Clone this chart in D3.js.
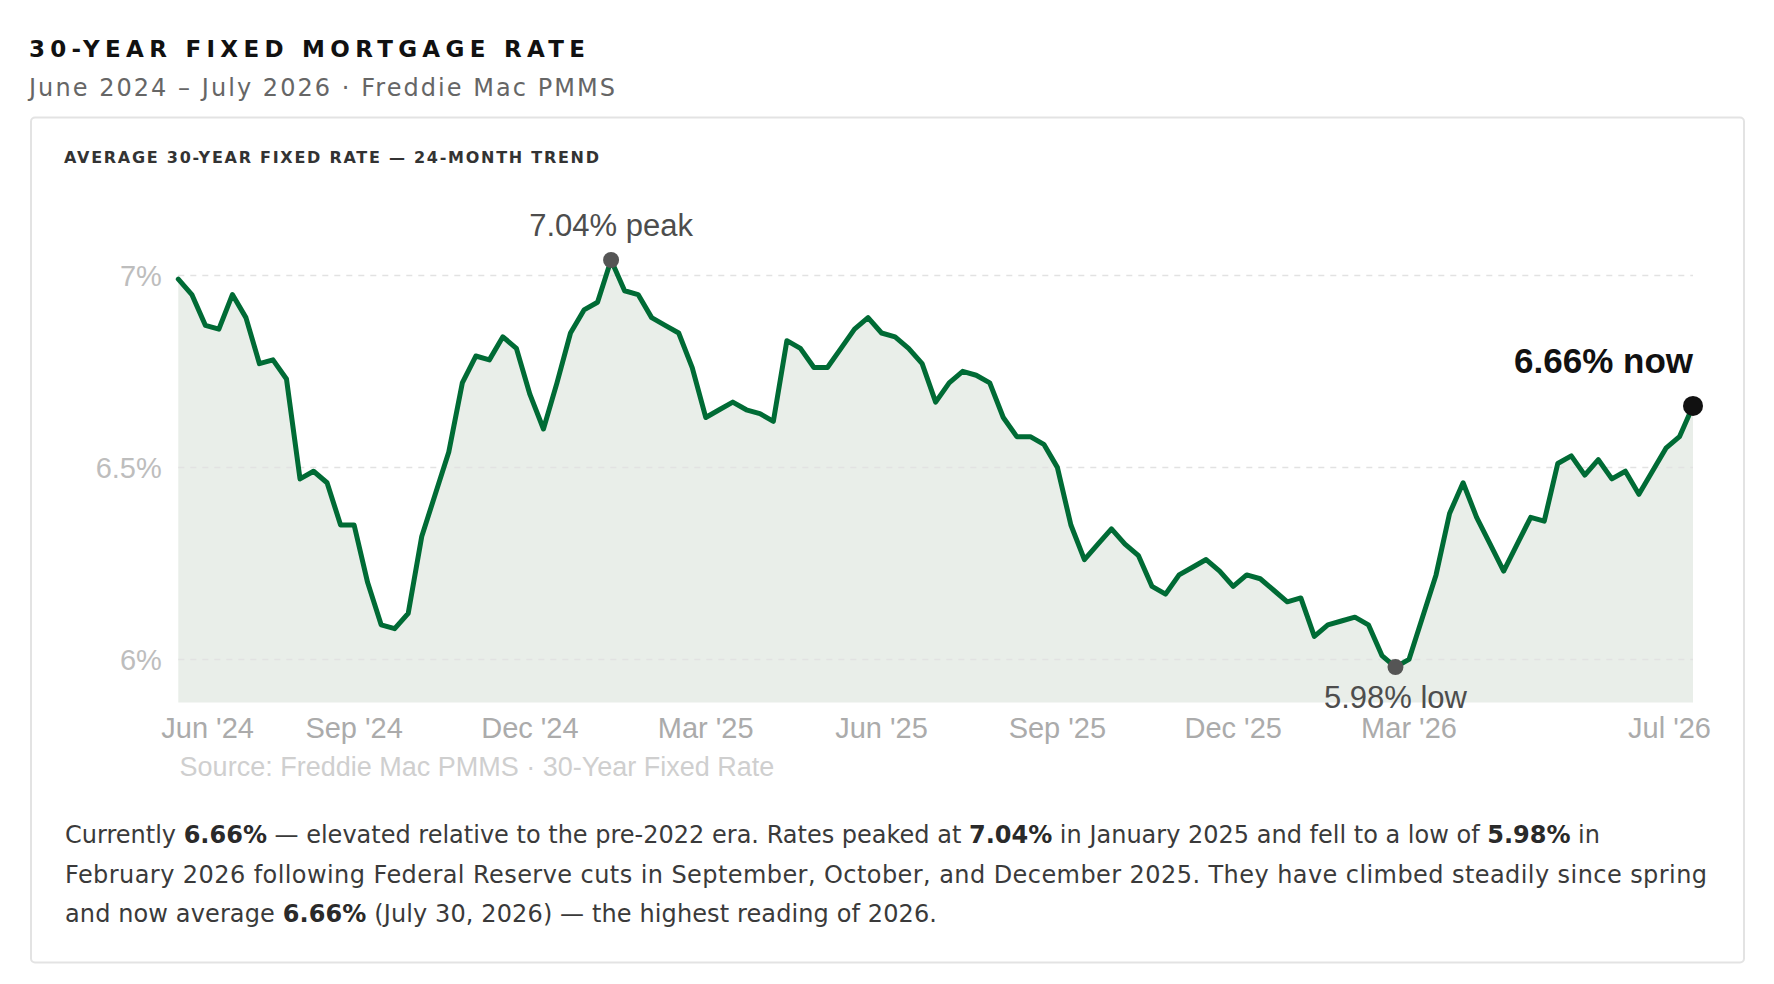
<!DOCTYPE html>
<html>
<head>
<meta charset="utf-8">
<script src="https://cdn.jsdelivr.net/npm/d3@7/dist/d3.min.js"></script>
<style>
  body { margin: 0; background: #fff; }
  svg { display: block; }
</style>
</head>
<body>
<svg id="chart" width="1774" height="984"></svg>
<script>
// Weekly Freddie Mac PMMS 30-year fixed readings, first week 2024-06-06
const firstWeek = '2024-06-06';
const rates = [
  6.99, 6.95, 6.87, 6.86, 6.95, 6.89, 6.77, 6.78, 6.73, 6.47,
  6.49, 6.46, 6.35, 6.35, 6.20, 6.09, 6.08, 6.12, 6.32, 6.43,
  6.54, 6.72, 6.79, 6.78, 6.84, 6.81, 6.69, 6.60, 6.72, 6.85,
  6.91, 6.93, 7.04, 6.96, 6.95, 6.89, 6.87, 6.85, 6.76, 6.63,
  6.65, 6.67, 6.65, 6.64, 6.62, 6.83, 6.81, 6.76, 6.76, 6.81,
  6.86, 6.89, 6.85, 6.84, 6.81, 6.77, 6.67, 6.72, 6.75, 6.74,
  6.72, 6.63, 6.58, 6.58, 6.56, 6.50, 6.35, 6.26, 6.30, 6.34,
  6.30, 6.27, 6.19, 6.17, 6.22, 6.24, 6.26, 6.23, 6.19, 6.22,
  6.21, 6.18, 6.15, 6.16, 6.06, 6.09, 6.10, 6.11, 6.09, 6.01,
  5.98, 6.00, 6.11, 6.22, 6.38, 6.46, 6.37, 6.30, 6.23, 6.30,
  6.37, 6.36, 6.51, 6.53, 6.48, 6.52, 6.47, 6.49, 6.43, 6.49,
  6.55, 6.58, 6.66
];

const tickDates = ['2024-06-06', '2024-09-05', '2024-12-05', '2025-03-06', '2025-06-05',
                   '2025-09-04', '2025-12-04', '2026-03-05', '2026-07-30'];
const tickLabels = ["Jun '24", "Sep '24", "Dec '24", "Mar '25", "Jun '25",
                    "Sep '25", "Dec '25", "Mar '26", "Jul '26"];
const yTicks = [6, 6.5, 7];
const yTickLabels = ['6%', '6.5%', '7%'];

const paragraph = [
  [['Currently ', false], ['6.66%', true], [' — elevated relative to the pre-2022 era. Rates peaked at ', false],
   ['7.04%', true], [' in January 2025 and fell to a low of ', false], ['5.98%', true], [' in', false]],
  [['February 2026 following Federal Reserve cuts in September, October, and December 2025. They have climbed steadily since spring', false]],
  [['and now average ', false], ['6.66%', true], [' (July 30, 2026) — the highest reading of 2026.', false]]
];

const parseDate = d3.timeParse('%Y-%m-%d');
const start = parseDate(firstWeek);
const data = rates.map((v, i) => ({ date: d3.timeDay.offset(start, 7 * i), value: v }));

const svg = d3.select('#chart');
const headFont = "'DejaVu Sans', sans-serif";
const chartFont = "'Liberation Sans', Arial, sans-serif";

// Page header
svg.append('text')
  .attr('x', 29).attr('y', 56.7)
  .attr('textLength', 556).attr('lengthAdjust', 'spacing')
  .style('font-family', headFont).style('font-weight', 700).style('font-size', '23px')
  .attr('fill', '#111')
  .text('30-YEAR FIXED MORTGAGE RATE');

svg.append('text')
  .attr('x', 29).attr('y', 95.5)
  .attr('textLength', 586).attr('lengthAdjust', 'spacing')
  .style('font-family', headFont).style('font-size', '24px')
  .attr('fill', '#666')
  .text('June 2024 – July 2026 · Freddie Mac PMMS');

// Card
svg.append('rect')
  .attr('x', 31).attr('y', 117.5).attr('width', 1713).attr('height', 845)
  .attr('rx', 4)
  .attr('fill', '#fff').attr('stroke', '#e3e3e3').attr('stroke-width', 2);

svg.append('text')
  .attr('x', 64).attr('y', 163.3)
  .attr('textLength', 535).attr('lengthAdjust', 'spacing')
  .style('font-family', headFont).style('font-weight', 700).style('font-size', '16px')
  .attr('fill', '#333')
  .text('AVERAGE 30-YEAR FIXED RATE — 24-MONTH TREND');

// Scales
const plot = { left: 178.3, right: 1693, top: 229.3, bottom: 702.4 };
const x = d3.scaleTime()
  .domain(d3.extent(data, d => d.date))
  .range([plot.left, plot.right]);
const y = d3.scaleLinear()
  .domain([5.888, 7.12])
  .range([plot.bottom, plot.top]);

// Area + gridlines
const g = svg.append('g');

g.append('path')
  .datum(data)
  .attr('fill', '#e9eee9')
  .attr('d', d3.area().x(d => x(d.date)).y0(plot.bottom).y1(d => y(d.value)));

g.append('g')
  .selectAll('line')
  .data(yTicks)
  .join('line')
  .attr('x1', plot.left).attr('x2', plot.right)
  .attr('y1', d => y(d)).attr('y2', d => y(d))
  .attr('stroke', '#e2e2e2').attr('stroke-width', 1.5)
  .attr('stroke-dasharray', '6,6');

g.append('g')
  .selectAll('text')
  .data(yTicks)
  .join('text')
  .attr('x', plot.left - 16.5)
  .attr('y', d => y(d))
  .attr('dy', '0.355em')
  .attr('text-anchor', 'end')
  .style('font-family', chartFont).style('font-size', '29px')
  .attr('fill', '#bdbdbd')
  .text((d, i) => yTickLabels[i]);

g.append('path')
  .datum(data)
  .attr('fill', 'none')
  .attr('stroke', '#006b35')
  .attr('stroke-width', 5)
  .attr('stroke-linejoin', 'round')
  .attr('stroke-linecap', 'round')
  .attr('d', d3.line().x(d => x(d.date)).y(d => y(d.value)));

// X axis labels, kept inside the plot edges
const xLabels = g.append('g')
  .selectAll('text')
  .data(tickDates.map(parseDate))
  .join('text')
  .attr('y', 738)
  .attr('text-anchor', 'middle')
  .style('font-family', chartFont).style('font-size', '29px')
  .attr('fill', '#ababab')
  .text((d, i) => tickLabels[i]);

xLabels.attr('x', function(d) {
  const half = this.getComputedTextLength() / 2;
  return Math.max(plot.left - 17 + half, Math.min(plot.right + 18 - half, x(d)));
});

g.append('text')
  .attr('x', plot.left + 1.3).attr('y', 776.3)
  .style('font-family', chartFont).style('font-size', '27px')
  .attr('fill', '#cfcfcf')
  .text('Source: Freddie Mac PMMS · 30-Year Fixed Rate');

// Annotations: peak, low, latest
const peak = data[d3.maxIndex(data, d => d.value)];
const low = data[d3.minIndex(data, d => d.value)];
const last = data[data.length - 1];

const notes = [
  { d: peak, label: `${peak.value.toFixed(2)}% peak`, r: 8, color: '#555', anchor: 'middle', dy: -24, size: 31, weight: 400 },
  { d: low, label: `${low.value.toFixed(2)}% low`, r: 8, color: '#555', anchor: 'middle', dy: 41, size: 31, weight: 400 },
  { d: last, label: `${last.value.toFixed(2)}% now`, r: 10, color: '#111', anchor: 'end', dy: -33, size: 35, weight: 700 }
];

const note = g.append('g')
  .selectAll('g')
  .data(notes)
  .join('g');

note.append('circle')
  .attr('cx', n => x(n.d.date))
  .attr('cy', n => y(n.d.value))
  .attr('r', n => n.r)
  .attr('fill', n => n.color);

note.append('text')
  .attr('x', n => x(n.d.date))
  .attr('y', n => y(n.d.value) + n.dy)
  .attr('text-anchor', n => n.anchor)
  .style('font-family', chartFont)
  .style('font-size', n => n.size + 'px')
  .style('font-weight', n => n.weight)
  .attr('fill', n => n.color === '#111' ? '#111' : '#4d4d4d')
  .text(n => n.label);

// Summary paragraph
const lineWidths = [1535, 1642, 872];
const para = svg.append('g')
  .style('font-family', headFont).style('font-size', '24px');

paragraph.forEach((segs, i) => {
  const t = para.append('text')
    .attr('x', 65)
    .attr('y', 843.3 + i * 39.2)
    .attr('textLength', lineWidths[i]).attr('lengthAdjust', 'spacing')
    .attr('fill', '#3a3a3a');
  segs.forEach(([txt, bold]) => {
    t.append('tspan')
      .style('font-weight', bold ? 700 : 400)
      .attr('fill', bold ? '#2a2a2a' : '#3a3a3a')
      .text(txt);
  });
});
</script>
</body>
</html>
